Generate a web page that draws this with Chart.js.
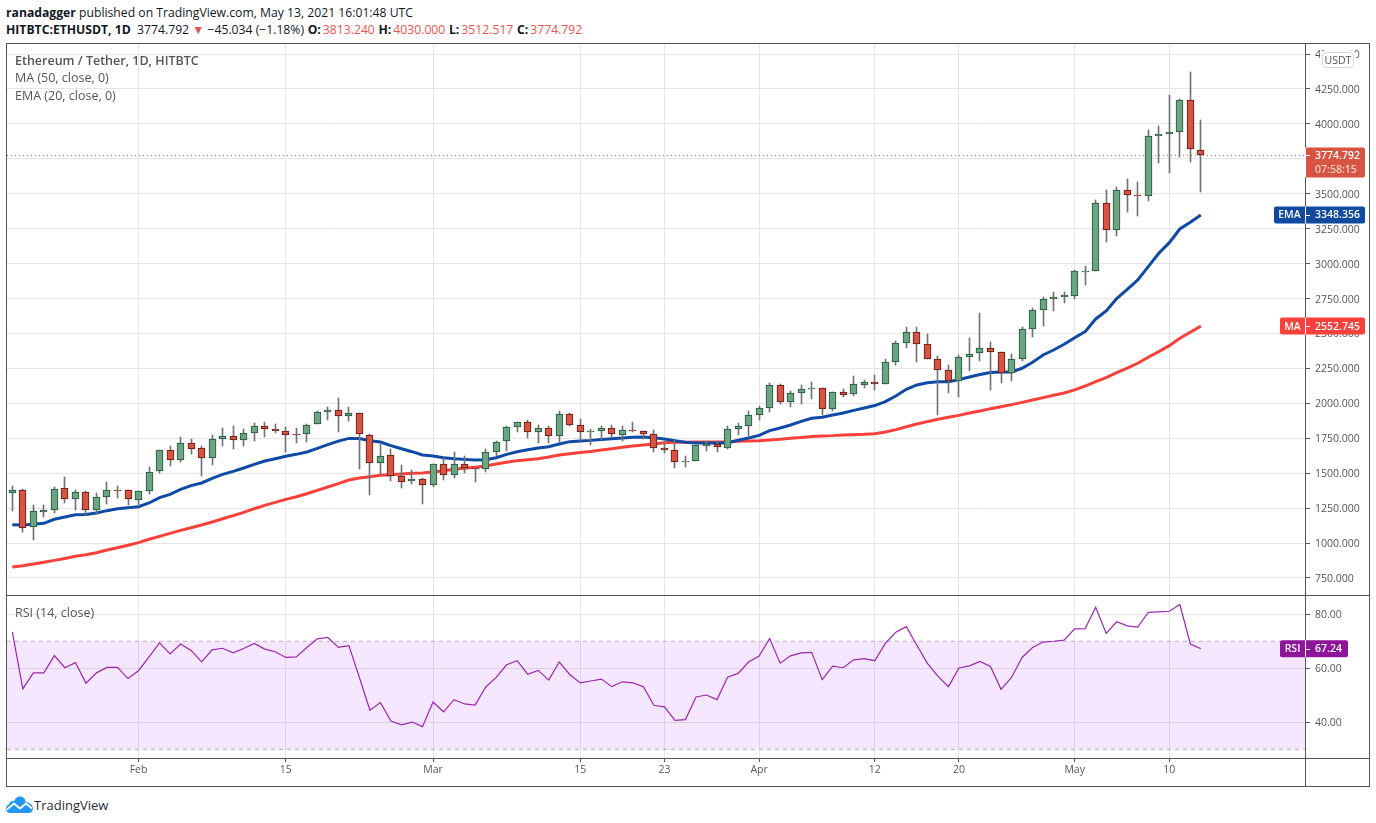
<!DOCTYPE html>
<html>
<head>
<meta charset="utf-8">
<title>ETHUSDT</title>
<script src="https://cdn.jsdelivr.net/npm/chart.js@4/dist/chart.umd.min.js"></script>
<style>
  html, body { margin:0; padding:0; background:#fff; width:1376px; height:823px; overflow:hidden; font-family:"Open Sans", sans-serif; }
  .abs { position:absolute; white-space:nowrap; }
  .hdr { left:6px; font-size:12.2px; line-height:16px; color:#131722; }
  .red { color:#ef5350; margin-left:2px; }
  .ohlc { margin-left:0.5px; }
  .leg { left:15px; font-size:12.5px; line-height:16px; color:#555; }
  .line { position:absolute; background:#555; }
  canvas { position:absolute; left:7px; }
</style>
</head>
<body>
<div class="abs hdr" style="top:5px"><b>ranadagger</b> published on TradingView.com, May 13, 2021 16:01:48 UTC</div>
<div class="abs hdr" style="top:22px"><b>HITBTC:ETHUSDT, 1D</b>&nbsp; 3774.792 <span class="red" style="margin:0">▼</span> −45.034 (−1.18%) <b class="ohlc">O:</b><span class="red">3813.240</span> <b class="ohlc">H:</b><span class="red">4030.000</span> <b class="ohlc">L:</b><span class="red">3512.517</span> <b class="ohlc">C:</b><span class="red">3774.792</span></div>

<div class="line" style="left:6px;top:43px;width:1364px;height:1px"></div>
<div class="line" style="left:6px;top:595px;width:1364px;height:1px"></div>
<div class="line" style="left:6px;top:758px;width:1364px;height:1px"></div>
<div class="line" style="left:6px;top:786px;width:1364px;height:1px"></div>
<div class="line" style="left:6px;top:43px;width:1px;height:744px"></div>
<div class="line" style="left:1369px;top:43px;width:1px;height:744px"></div>
<div class="line" style="left:1305px;top:43px;width:1px;height:744px"></div>

<canvas id="price" width="1362" height="551" style="top:44px"></canvas>
<canvas id="rsi" width="1362" height="190" style="top:596px"></canvas>

<div class="abs leg" style="top:53px"><b style="font-weight:600">Ethereum / Tether, 1D, HITBTC</b></div>
<div class="abs leg" style="top:70px">MA (50, close, 0)</div>
<div class="abs leg" style="top:88px">EMA (20, close, 0)</div>
<div class="abs leg" style="top:605px">RSI (14, close)</div>

<div class="abs" style="left:1322px;top:52px;width:30px;height:14px;border:1px solid #d8d9e2;border-radius:4px;background:#fff;box-shadow:0 0 0 2px #fff;color:#555;font-size:10.5px;line-height:14px;text-align:center">USDT</div>

<svg class="abs" style="left:6px;top:796px" width="27" height="17" viewBox="0 0 27 17">
  <path d="M4 17 C1.5 17 0 15 0 12.5 C0 10.5 1.2 9 3 8.4 C3.6 5.5 6 4.6 8 5.2 C9.4 2 12 0 15 0.6 C18 1.2 19.5 3.6 19.6 6 C23.5 6 27 9 27 12.6 C27 15 25.4 17 23 17 Z" fill="#2196f3"/>
  <path d="M1 13.5 L8 7.5 L14 12.5 L20 7.5 L26 12.5" fill="none" stroke="#fff" stroke-width="1.8"/>
</svg>
<div class="abs" style="left:34px;top:796px;font-size:13px;line-height:18px;color:#2a2e39">TradingView</div>

<script>
const opens = [
  1361,1377,1112,1225,1234,1392,1313,1363,1234,1327,
  1380,1377,1306,1370,1513,1664,1592,1714,1678,1606,
  1742,1764,1735,1785,1835,1814,1800,1780,1778,1850,
  1936,1950,1907,1928,1771,1570,1628,1477,1442,1456,
  1413,1563,1485,1563,1535,1528,1649,1728,1828,1864,
  1792,1821,1764,1921,1843,1792,1800,1821,1771,1807,
  1800,1778,1678,1664,1578,1585,1692,1707,1678,1814,
  1836,1914,1965,2129,2007,2072,2101,2108,1957,2079,
  2065,2129,2151,2136,2294,2430,2509,2423,2315,2237,
  2158,2330,2358,2394,2365,2215,2315,2530,2666,2745,
  2759,2766,2943,2945,3432,3239,3525,3489,3482,3912,
  3926,3940,4169,3813.24];
const highs = [
  1408,1387,1272,1272,1399,1473,1377,1370,1358,1437,
  1408,1377,1370,1542,1664,1695,1759,1742,1695,1771,
  1823,1838,1814,1859,1866,1852,1831,1823,1852,1943,
  1971,2038,1971,1928,1778,1714,1671,1559,1523,1463,
  1563,1606,1652,1621,1535,1671,1728,1835,1864,1878,
  1843,1835,1943,1928,1888,1814,1835,1843,1835,1866,
  1800,1807,1728,1735,1621,1699,1728,1728,1835,1857,
  1945,1979,2143,2136,2086,2132,2151,2108,2079,2101,
  2196,2165,2201,2315,2444,2544,2544,2497,2337,2272,
  2344,2468,2647,2437,2365,2351,2544,2680,2759,2797,
  2797,2952,2983,3456,3527,3549,3606,3585,3957,3986,
  4207,4176,4372,4030];
const lows = [
  1232,1081,1024,1189,1217,1289,1239,1203,1208,1282,
  1325,1272,1267,1353,1504,1554,1582,1640,1482,1561,
  1697,1675,1697,1733,1761,1785,1654,1718,1726,1850,
  1883,1797,1876,1532,1346,1492,1446,1396,1425,1282,
  1403,1454,1468,1504,1439,1511,1621,1659,1797,1754,
  1718,1718,1721,1835,1728,1704,1735,1757,1728,1795,
  1742,1654,1647,1539,1547,1585,1661,1654,1671,1776,
  1767,1883,1941,1998,1976,1998,2034,1917,1943,2048,
  2055,2112,2098,2136,2277,2396,2299,2315,1917,2077,
  2048,2234,2306,2098,2148,2163,2301,2478,2556,2664,
  2721,2750,2850,2945,3158,3201,3372,3344,3451,3723,
  3652,3766,3730,3512.517];
const closes = [
  1377,1105,1227,1234,1384,1313,1363,1234,1327,1377,
  1375,1313,1370,1506,1664,1592,1714,1671,1606,1742,
  1764,1735,1785,1835,1814,1800,1771,1776,1843,1936,
  1950,1907,1928,1778,1570,1621,1477,1434,1456,1413,
  1563,1485,1563,1535,1528,1649,1721,1828,1864,1792,
  1821,1764,1921,1843,1792,1800,1821,1778,1807,1800,
  1778,1678,1664,1578,1585,1699,1707,1685,1814,1836,
  1914,1965,2129,2007,2072,2101,2108,1957,2079,2062,
  2136,2151,2136,2294,2430,2509,2423,2315,2237,2158,
  2330,2351,2394,2365,2215,2315,2530,2666,2745,2759,
  2773,2945,2948,3432,3239,3525,3489,3482,3912,3926,
  3940,4169,3819.826,3774.792];
const ema20 = [
  1131,1129,1134,1141,1170,1186,1203,1205,1215,1232,
  1246,1253,1260,1287,1325,1349,1384,1411,1430,1463,
  1492,1513,1537,1563,1587,1604,1621,1635,1652,1678,
  1704,1730,1749,1749,1733,1723,1697,1675,1654,1630,
  1623,1611,1604,1599,1594,1597,1611,1635,1654,1668,
  1680,1690,1709,1726,1730,1735,1742,1747,1752,1757,
  1759,1754,1745,1733,1721,1716,1716,1716,1718,1736,
  1752,1771,1805,1824,1845,1871,1893,1900,1917,1931,
  1950,1967,1984,2012,2053,2101,2132,2148,2155,2155,
  2170,2189,2206,2220,2225,2225,2251,2294,2346,2382,
  2423,2470,2513,2604,2661,2750,2816,2883,2979,3074,
  3150,3248,3296,3348.356];
const ma50 = [
  828,838,850,862,876,890,905,917,931,950,
  967,984,1003,1027,1048,1069,1091,1110,1129,1151,
  1174,1196,1220,1246,1270,1291,1313,1332,1353,1377,
  1401,1425,1451,1466,1475,1485,1489,1494,1499,1501,
  1508,1518,1528,1535,1542,1551,1566,1578,1590,1597,
  1604,1616,1630,1640,1649,1656,1666,1675,1685,1695,
  1702,1709,1718,1721,1721,1723,1723,1723,1723,1728,
  1731,1733,1738,1743,1750,1755,1762,1767,1769,1774,
  1776,1778,1783,1795,1812,1833,1852,1869,1886,1900,
  1914,1931,1945,1962,1976,1991,2007,2024,2041,2058,
  2074,2096,2124,2155,2184,2220,2253,2287,2330,2370,
  2413,2466,2509,2552.745];
const rsi14 = [
  73.5,52.4,58.3,58.3,64.7,60.2,62.1,54.5,58.3,60.3,
  60.3,56.2,59.1,64.2,69.4,65.3,69.0,66.6,62.4,66.8,
  67.4,65.7,67.3,69.2,67.1,66.1,64.0,64.2,67.7,70.9,
  71.4,67.7,68.4,56.6,44.5,47.3,40.5,39.1,40.1,38.4,
  47.5,43.9,48.4,46.8,46.4,53.0,56.6,61.3,62.8,57.8,
  59.2,55.6,62.3,57.7,54.6,55.3,56.0,53.2,55.0,54.6,
  53.2,46.3,45.7,40.7,41.0,49.4,50.1,48.4,56.7,58.1,
  62.3,64.5,71.0,61.9,64.6,65.7,65.9,55.8,60.8,60.2,
  63.1,63.6,62.8,69.2,73.3,75.4,68.5,61.8,57.1,53.2,
  60.1,60.9,62.5,60.7,52.2,56.6,64.0,67.7,69.7,70.0,
  70.4,74.6,74.7,82.6,72.9,77.2,75.7,75.2,80.7,80.9,
  81.1,83.6,69.0,67.24];

const priceTicks = [750,1000,1250,1500,1750,2000,2250,2500,2750,3000,3250,3500,3750,4000,4250,4500];
const rsiTicks = [40,60,80];
const rsiBands = [70,30];
const dateTicks = [12,26,40,54,62,71,82,90,101,110];
const dateLabels = ["Feb","15","Mar","15","23","Apr","12","20","May","10"];

const FONT = {family:'"Open Sans", sans-serif', size:10.5};
const GRID = "#e6e6e6";
const AXIS = "#555";
const XMIN = -0.504, XMAX = 122.9;

const xs = closes.map((_, i) => i);
const up = opens.map((o, i) => closes[i] >= o);
const toPoints = arr => arr.map((v, i) => ({x:i, y:v}));
const last = closes[closes.length - 1];

// snap the bars to whole pixels so the candles stay crisp
const snapBars = {
  id:"snapBars",
  afterDatasetsUpdate(chart) {
    chart.data.datasets.forEach((ds, i) => {
      if (ds.type !== "bar") return;
      chart.getDatasetMeta(i).data.forEach(el => {
        el.x = Math.floor(el.x) + 0.5;
        el.y = Math.round(el.y);
        el.base = Math.round(el.base);
      });
    });
  }
};

// coloured tags sitting on the right axis
function drawTag(ctx, axisX, y, tag) {
  const h = tag.h || 17, top = y - (tag.above || h / 2);
  ctx.save();
  ctx.fillStyle = "#fff";
  ctx.fillRect(axisX, top, 1, h);
  ctx.fillStyle = tag.color;
  ctx.beginPath();
  ctx.roundRect(axisX + 1, top, tag.w, h, [0,2,2,0]);
  ctx.fill();
  if (tag.label) {
    ctx.beginPath();
    ctx.roundRect(axisX - tag.labelW, top, tag.labelW, h, [2,0,0,2]);
    ctx.fill();
  }
  ctx.strokeStyle = "#fff";
  ctx.lineWidth = 1;
  ctx.beginPath();
  ctx.moveTo(axisX + 1, Math.round(y) + 0.5);
  ctx.lineTo(axisX + 5, Math.round(y) + 0.5);
  ctx.stroke();
  ctx.font = '600 10.5px "Open Sans", sans-serif';
  ctx.fillStyle = "#fff";
  ctx.textBaseline = "middle";
  ctx.textAlign = "left";
  ctx.fillText(tag.value, axisX + 10, y + 0.5);
  if (tag.sub) {
    ctx.fillStyle = "rgba(255,255,255,0.7)";
    ctx.fillText(tag.sub, axisX + 10, y + 15);
  }
  if (tag.label) {
    ctx.fillStyle = "#fff";
    ctx.textAlign = "center";
    ctx.fillText(tag.label, axisX - tag.labelW / 2, y + 0.5);
  }
  ctx.restore();
}

const priceTags = {
  id:"priceTags",
  afterDraw(chart) {
    const s = chart.scales.y, ctx = chart.ctx;
    drawTag(ctx, s.left, s.getPixelForValue(last), {value:last.toFixed(3), sub:"07:58:15", color:"#d75442", w:59, h:30, above:8});
    drawTag(ctx, s.left, s.getPixelForValue(ema20[ema20.length-1]), {value:"3348.356", label:"EMA", labelW:31, color:"#0f4a9f", w:59});
    drawTag(ctx, s.left, s.getPixelForValue(ma50[ma50.length-1]), {value:"2552.745", label:"MA", labelW:25, color:"#f9403a", w:59});
  }
};
const rsiTags = {
  id:"rsiTags",
  afterDraw(chart) {
    const s = chart.scales.y;
    drawTag(chart.ctx, s.left, s.getPixelForValue(rsi14[rsi14.length-1]), {value:"67.24", label:"RSI", labelW:25, color:"#8e1599", w:42});
  }
};

function noPadding(s) {
  s.paddingTop = 0; s.paddingBottom = 0; s.paddingLeft = 0; s.paddingRight = 0;
}
function xAxis(showLabels) {
  return {
    type:"linear", min:XMIN, max:XMAX, offset:false,
    afterBuildTicks: s => { s.ticks = dateTicks.map(v => ({value:v})); },
    afterFit: s => { s.height = showLabels ? 28 : 0; noPadding(s); },
    grid:{color:GRID, offset:false, drawTicks:showLabels, tickLength:4, tickColor:AXIS},
    border:{display:false},
    ticks:{display:showLabels, autoSkip:false, maxRotation:0, padding:2, color:AXIS, font:FONT,
      callback:(v) => dateLabels[dateTicks.indexOf(v)]}
  };
}
function yAxis(min, max, tickList, digits) {
  return {
    position:"right", min:min, max:max,
    afterBuildTicks: s => { s.ticks = tickList.map(v => ({value:v})); },
    afterFit: s => { s.width = 64; noPadding(s); },
    grid:{color:GRID, drawTicks:true, tickLength:5, tickColor:AXIS},
    border:{display:false},
    ticks:{padding:5, labelOffset:1, color:AXIS, font:FONT, autoSkip:false, callback:v => v.toFixed(digits)}
  };
}

new Chart(document.getElementById("price"), {
  data:{
    datasets:[
      {type:"line", data:[{x:XMIN,y:last},{x:XMAX,y:last}], borderColor:"#d75442", borderWidth:1, borderDash:[1,3], pointRadius:0, order:5},
      {type:"line", data:toPoints(ma50), borderColor:"#f9403a", borderWidth:3, pointRadius:0, tension:0, order:4},
      {type:"line", data:toPoints(ema20), borderColor:"#0f4aa5", borderWidth:3, pointRadius:0, tension:0, order:3},
      {type:"bar", data:xs.map(i => ({x:i, y:[lows[i],highs[i]]})), backgroundColor:"#737375", barThickness:1, grouped:false, order:2},
      {type:"bar", data:xs.map(i => ({x:i, y:[opens[i],closes[i]]})),
        backgroundColor:up.map(u => u ? "#6ba583" : "#d75442"),
        borderColor:up.map(u => u ? "#225437" : "#5b1a13"),
        borderWidth:1, borderSkipped:false, barThickness:7, grouped:false, order:1}
    ]
  },
  options:{
    responsive:false, animation:false, devicePixelRatio:1,
    layout:{padding:0, autoPadding:false},
    plugins:{legend:{display:false}, tooltip:{enabled:false}},
    scales:{x:xAxis(false), y:yAxis(628.3,4572,priceTicks,3)}
  },
  plugins:[snapBars, priceTags]
});

new Chart(document.getElementById("rsi"), {
  data:{
    datasets:[
      {type:"line", data:[{x:XMIN,y:rsiBands[0]},{x:XMAX,y:rsiBands[0]}], borderColor:"rgba(120,100,130,0.5)", borderWidth:1, borderDash:[4,4], pointRadius:0, fill:"+1", backgroundColor:"rgba(153,21,255,0.1)", order:3},
      {type:"line", data:[{x:XMIN,y:rsiBands[1]},{x:XMAX,y:rsiBands[1]}], borderColor:"rgba(120,100,130,0.5)", borderWidth:1, borderDash:[4,4], pointRadius:0, order:2},
      {type:"line", data:toPoints(rsi14), borderColor:"#9c27b0", borderWidth:1.2, pointRadius:0, tension:0, order:1}
    ]
  },
  options:{
    responsive:false, animation:false, devicePixelRatio:1,
    layout:{padding:0, autoPadding:false},
    plugins:{legend:{display:false}, tooltip:{enabled:false}},
    scales:{x:xAxis(true), y:yAxis(26.8,86.74,rsiTicks,2)}
  },
  plugins:[rsiTags]
});
</script>
</body>
</html>
